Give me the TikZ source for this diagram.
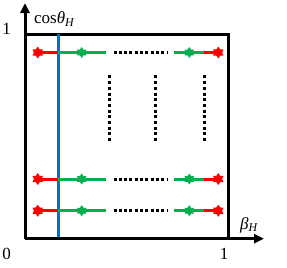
\documentclass[tikz,border=0pt]{standalone}
\usepackage{fontspec}
\setmainfont{Liberation Serif}
\usetikzlibrary{shapes.geometric,arrows.meta}
\definecolor{myred}{RGB}{255,0,0}
\definecolor{mygreen}{RGB}{0,176,80}
\definecolor{myblue}{RGB}{0,112,192}
\tikzset{
  axis/.style={line width=3pt,-{Triangle[length=10pt,width=9pt]}},
  frame/.style={line width=3pt},
  redstar/.style={star,star points=6,star point ratio=1.6,fill=myred,inner sep=0pt,minimum size=12pt},
  greenstar/.style={star,star points=6,star point ratio=1.6,fill=mygreen,inner sep=0pt,minimum size=11pt},
  redline/.style={draw=myred,line width=3pt},
  greenline/.style={draw=mygreen,line width=3pt},
  dotline/.style={line width=3pt,dash pattern=on 3pt off 2.3pt},
  lbl/.style={inner sep=0pt,font=\fontsize{17}{20}\selectfont},
}
\begin{document}
\begin{tikzpicture}[x=1pt,y=-1pt]
\useasboundingbox (0,0) rectangle (287,268);
\coordinate (O) at (25,238.7);
\coordinate (Ytip) at (25,3);
\coordinate (Xtip) at (264,238.7);
\coordinate (TL) at (25,34);
\coordinate (TR) at (228.7,34);
\coordinate (BR) at (228.7,238.7);
\draw[frame] (TL) -- (TR) -- (BR);
\coordinate (B1) at (58.3,34);
\coordinate (B2) at (58.3,238.7);
\draw[draw=myblue,line width=2.6pt] (B1) -- (B2);
\draw[axis] (O) -- (Ytip);
\draw[axis] (O) -- (Xtip);
\foreach \r/\y in {a/52.5,b/179,c/210.7}{
  \coordinate (\r J1) at (58.3,\y);
  \coordinate (\r G1) at (106,\y);
  \coordinate (\r D1) at (113.5,\y);
  \coordinate (\r D2) at (168,\y);
  \coordinate (\r G2) at (174,\y);
  \coordinate (\r J2) at (204,\y);
  \draw[redline] (37.7,\y) coordinate (\r R1) -- (\r J1);
  \draw[greenline] (\r J1) -- (\r G1);
  \draw[dotline] (\r D1) -- (\r D2);
  \draw[greenline] (\r G2) -- (\r J2);
  \draw[redline] (\r J2) -- (218.3,\y) coordinate (\r R2);
  \node[redstar] (\r s1) at (\r R1) {};
  \node[greenstar] (\r s2) at (81.7,\y) {};
  \node[greenstar] (\r s3) at (189.3,\y) {};
  \node[redstar] (\r s4) at (\r R2) {};
}
\foreach \n/\x in {v1/109,v2/155.3,v3/204.3}{
  \coordinate (\n a) at (\x,75.4);
  \coordinate (\n b) at (\x,142);
  \draw[line width=3pt,dash pattern=on 3pt off 2.7pt] (\n a) -- (\n b);
}
\node[lbl] (one) at (6.7,29.3) {1};
\node[lbl,anchor=base west] (ylab) at (34,23.5) {cos\textit{θ}\textsubscript{\textit{H}}};
\node[lbl,anchor=base west] (xlab) at (240,229) {\textit{β}\textsubscript{\textit{H}}};
\node[lbl] (zero) at (6.7,254) {0};
\node[lbl] (onex) at (224,254) {1};
\end{tikzpicture}
\end{document}
